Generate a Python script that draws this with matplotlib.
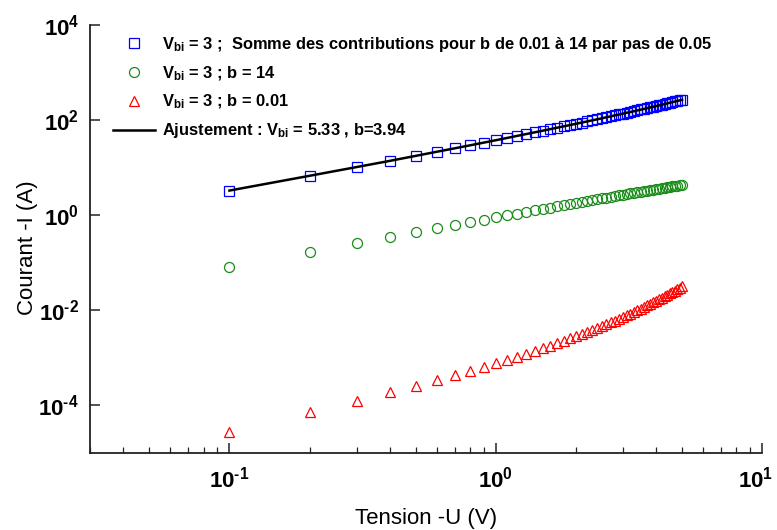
import matplotlib
matplotlib.use("Agg")
import matplotlib.pyplot as plt
from matplotlib.ticker import LogLocator, FuncFormatter, NullLocator
from matplotlib.transforms import ScaledTranslation
import math

plt.rcParams["font.family"] = ["Liberation Sans", "DejaVu Sans"]
plt.rcParams["mathtext.fontset"] = "custom"
plt.rcParams["mathtext.rm"] = "Liberation Sans:bold"
plt.rcParams["mathtext.it"] = "Liberation Sans:bold"
plt.rcParams["mathtext.bf"] = "Liberation Sans:bold"
plt.rcParams["mathtext.default"] = "bf"
plt.rcParams["axes.unicode_minus"] = False

# Tension appliquée (V)
tension = [0.1, 0.2, 0.3, 0.4, 0.5, 0.6, 0.7, 0.8, 0.9, 1.0,
           1.1, 1.2, 1.3, 1.4, 1.5, 1.6, 1.7, 1.8, 1.9, 2.0,
           2.1, 2.2, 2.3, 2.4, 2.5, 2.6, 2.7, 2.8, 2.9, 3.0,
           3.1, 3.2, 3.3, 3.4, 3.5, 3.6, 3.7, 3.8, 3.9, 4.0,
           4.1, 4.2, 4.3, 4.4, 4.5, 4.6, 4.7, 4.8, 4.9, 5.0]

# Somme des contributions, b de 0.01 à 14
courant_somme = [3.22, 6.69, 10.3, 14.0, 17.8, 21.7, 25.7, 29.7, 33.8, 38.0,
                 42.3, 46.7, 51.1, 55.6, 60.1, 64.8, 69.5, 74.3, 79.1, 84.1,
                 89.1, 94.1, 99.3, 104.5, 109.8, 115.3, 120.7, 126.3, 131.9, 137.6,
                 143.4, 149.2, 155.1, 161.2, 167.3, 173.5, 179.8, 186.2, 192.6, 199.2,
                 205.8, 212.5, 219.3, 226.2, 233.1, 240.2, 247.4, 254.6, 262.0, 269.5]

# Contribution b = 14
courant_b14 = [0.0828, 0.1705, 0.260, 0.350, 0.441, 0.533, 0.624, 0.716, 0.808, 0.899,
               0.991, 1.083, 1.174, 1.266, 1.357, 1.448, 1.539, 1.630, 1.721, 1.811,
               1.901, 1.991, 2.080, 2.169, 2.258, 2.347, 2.435, 2.523, 2.611, 2.698,
               2.786, 2.872, 2.959, 3.045, 3.131, 3.217, 3.301, 3.387, 3.471, 3.555,
               3.639, 3.722, 3.805, 3.888, 3.969, 4.052, 4.133, 4.214, 4.296, 4.377]

# Contribution b = 0.01
courant_b001 = [2.83e-5, 7.15e-5, 1.25e-4, 1.88e-4, 2.61e-4, 3.43e-4, 4.36e-4, 5.38e-4, 6.52e-4, 7.78e-4,
                9.16e-4, 1.067e-3, 1.232e-3, 1.411e-3, 1.606e-3, 1.818e-3, 2.047e-3, 2.296e-3, 2.564e-3, 2.853e-3,
                3.165e-3, 3.501e-3, 3.862e-3, 4.25e-3, 4.668e-3, 5.117e-3, 5.597e-3, 6.11e-3, 6.66e-3, 7.25e-3,
                7.88e-3, 8.55e-3, 9.27e-3, 1.004e-2, 1.086e-2, 1.173e-2, 1.266e-2, 1.366e-2, 1.472e-2, 1.585e-2,
                1.704e-2, 1.831e-2, 1.968e-2, 2.113e-2, 2.265e-2, 2.428e-2, 2.602e-2, 2.786e-2, 2.981e-2, 3.188e-2]

# Courbe d'ajustement (Vbi = 5.33, b = 3.94)
courant_ajust = [3.30, 6.75, 10.3, 13.9, 17.7, 21.6, 25.5, 29.5, 33.6, 37.8,
                 42.1, 46.5, 50.9, 55.4, 60.0, 64.6, 69.3, 74.1, 78.9, 83.8,
                 88.8, 93.8, 98.9, 104.0, 109.0, 115.0, 120.0, 126.0, 131.0, 137.0,
                 143.0, 148.0, 154.0, 160.0, 166.0, 172.0, 179.0, 185.0, 191.0, 198.0,
                 204.0, 211.0, 218.0, 225.0, 232.0, 239.0, 246.0, 253.0, 260.0, 268.0]

x_ticks = [1e-1, 1e0, 1e1]
y_ticks = [1e-4, 1e-2, 1e0, 1e2, 1e4]

labels = [r"V$_{bi}$ = 3 ;  Somme des contributions pour b de 0.01 à 14 par pas de 0.05",
          r"V$_{bi}$ = 3 ; b = 14",
          r"V$_{bi}$ = 3 ; b = 0.01",
          r"Ajustement : V$_{bi}$ = 5.33 , b=3.94"]


def puissance(val, pos):
    e = int(round(math.log10(val)))
    exposant = (r"\text{-}%d" % -e) if e < 0 else "%d" % e
    return r"$\mathbf{10}^{%s}$" % exposant


fig = plt.figure(figsize=(7.77, 5.30), dpi=100)
ax = fig.add_axes([0.116, 0.1453, 0.865, 0.8075])

h1, = ax.plot(tension, courant_somme, ls="none", marker="s", ms=7.2, mfc="none",
              mec="#0000ff", mew=0.9, label=labels[0])
h2, = ax.plot(tension, courant_b14, ls="none", marker="o", ms=7.2, mfc="none",
              mec="#1a8c1a", mew=0.9, label=labels[1])
h3, = ax.plot(tension, courant_b001, ls="none", marker="^", ms=7.8, mfc="none",
              mec="#ff0000", mew=0.9, label=labels[2])
h4, = ax.plot(tension, courant_ajust, color="black", lw=1.8, label=labels[3])

ax.set_xscale("log")
ax.set_yscale("log")
ax.set_xlim(0.03, 10)
ax.set_ylim(1e-5, 1e4)

ax.set_xticks(x_ticks)
ax.xaxis.set_minor_locator(LogLocator(base=10, subs=range(2, 10), numticks=20))
ax.xaxis.set_major_formatter(FuncFormatter(puissance))
ax.set_yticks(y_ticks)
ax.yaxis.set_major_formatter(FuncFormatter(puissance))
ax.yaxis.set_minor_locator(NullLocator())

for side in ("top", "right"):
    ax.spines[side].set_visible(False)
for side in ("left", "bottom"):
    ax.spines[side].set_linewidth(1.3)
    ax.spines[side].set_color("#222222")

ax.tick_params(which="major", direction="in", length=7, width=1.1, color="#222222",
               labelsize=16)
ax.tick_params(which="minor", direction="in", length=4, width=0.9, color="#222222")
ax.tick_params(axis="x", which="major", pad=10)
ax.tick_params(axis="y", which="major", pad=8)

# keep the last x label inside the figure edge
dernier = ax.xaxis.get_major_ticks()[-1].label1
dernier.set_transform(dernier.get_transform()
                      + ScaledTranslation(-5 / 72, 0, fig.dpi_scale_trans))

ax.set_xlabel("Tension -U (V)", fontsize=16, labelpad=11)
ax.set_ylabel("Courant -I (A)", fontsize=16)
ax.yaxis.set_label_coords(-0.077, 0.48)

leg = ax.legend(handles=[h1, h2, h3, h4], loc="upper left",
                bbox_to_anchor=(0.02, 1.0), frameon=False, fontsize=11.9,
                handlelength=2.5, handletextpad=0.45, labelspacing=0.62,
                borderaxespad=0.2)
for t in leg.get_texts():
    t.set_fontweight("bold")

fig.savefig("out.png", dpi=100)
